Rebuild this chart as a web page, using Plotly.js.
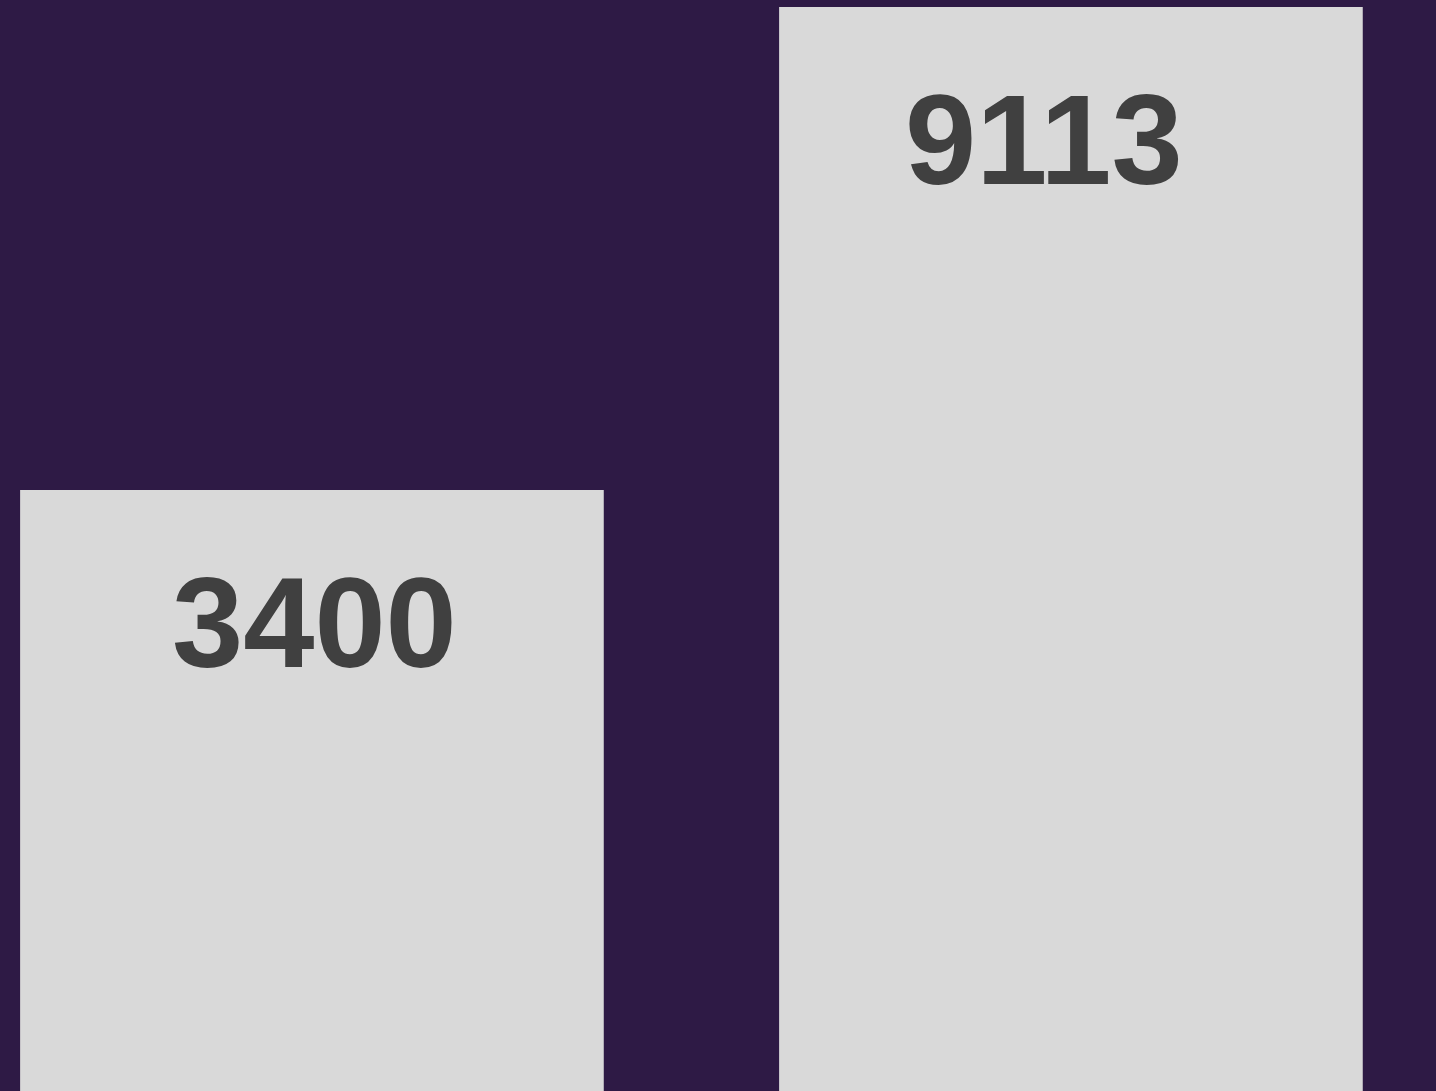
<!DOCTYPE html>
<html>
<head>
<meta charset="utf-8">
<script src="https://cdn.plot.ly/plotly-3.0.1.min.js"></script>
<style>html,body{margin:0;padding:0;background:#2e1a45;overflow:hidden;}#chart{width:1436px;height:1091px;}</style>
</head>
<body>
<div id="chart"></div>
<script>
const categories = ["A", "B"];
const values = [3400, 9113];
const labels = ["3400", "9113"];

// label placement tweaks (pixels), styling only
const labelXShift = { "A": 3, "B": -27 };

const trace = {
  type: "bar",
  x: categories,
  y: values,
  marker: { color: "#d9d9d9", line: { width: 0 } },
  width: 0.769,
  hoverinfo: "skip"
};

const annotations = categories.map((c, i) => ({
  x: c,
  y: Math.log10(values[i]),
  xref: "x",
  yref: "y",
  text: labels[i],
  showarrow: false,
  xanchor: "center",
  yanchor: "middle",
  yshift: -132,
  xshift: labelXShift[c],
  font: { family: "Liberation Sans, Arial, sans-serif", size: 128, color: "#404040", weight: 700 }
}));

const layout = {
  width: 1436,
  height: 1091,
  margin: { l: 0, r: 0, t: 0, b: 0, pad: 0 },
  paper_bgcolor: "#2e1a45",
  plot_bgcolor: "#2e1a45",
  showlegend: false,
  xaxis: { range: [-0.411, 1.481], visible: false, showgrid: false, zeroline: false },
  yaxis: { type: "log", range: [2.9987, 3.9659], visible: false, showgrid: false, zeroline: false },
  annotations: annotations
};

Plotly.newPlot("chart", [trace], layout, { displayModeBar: false, staticPlot: true });
</script>
</body>
</html>
